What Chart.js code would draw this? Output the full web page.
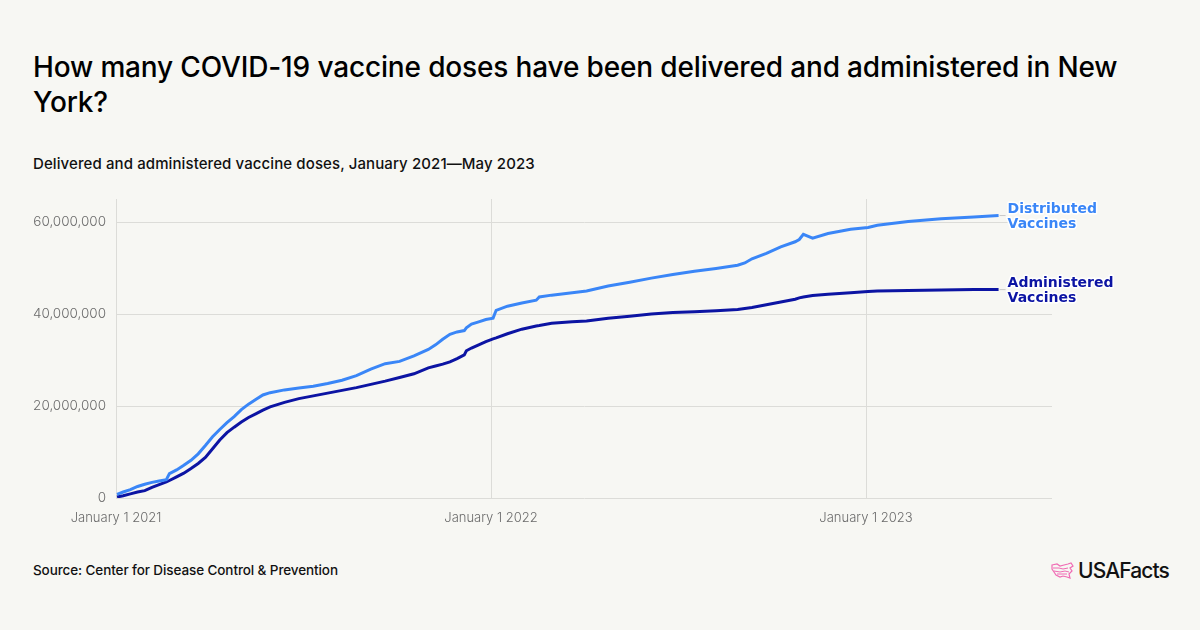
<!DOCTYPE html>
<html>
<head>
<meta charset="utf-8">
<script src="https://cdn.jsdelivr.net/npm/chart.js@4.4.1/dist/chart.umd.min.js"></script>
<style>
  html, body { margin:0; padding:0; background:#f7f7f3; }
  body { width:1200px; height:630px; position:relative; overflow:hidden; font-family: Inter, "Noto Sans", sans-serif; }
  #title { position:absolute; left:33px; top:50px; width:1140px; font-size:28px; font-weight:500; line-height:35px; color:#000; letter-spacing:-0.15px; }
  #subtitle { position:absolute; left:33px; top:154px; font-size:15px; font-weight:500; color:#111; letter-spacing:0.1px; }
  #source { position:absolute; left:33px; top:562px; font-size:13.5px; font-weight:500; color:#111; letter-spacing:-0.1px; }
  #logo { position:absolute; left:1051px; top:558px; display:flex; align-items:center; }
  #logo span { font-size:21px; font-weight:500; color:#111; letter-spacing:-0.9px; margin-left:4px; }
  #wrap { position:absolute; left:0; top:0; width:1200px; height:630px; }
</style>
</head>
<body>
<div id="title">How many COVID-19 vaccine doses have been delivered and administered in New York?</div>
<div id="subtitle">Delivered and administered vaccine doses, January 2021—May 2023</div>
<div id="source">Source: Center for Disease Control &amp; Prevention</div>
<div id="logo">
  <svg width="23" height="18" viewBox="0 0 23 18">
    <path d="M1 3 L6 2 L9 4 L13 3 L17 2 L20 1 L22 4 L19 6 L21 9 L18 12 L19 16 L16 15 L12 14 L9 15 L5 13 L3 10 L1 7 Z" fill="none" stroke="#f06bb4" stroke-width="1.2"/>
    <path d="M2 6 L8 6 L12 7 L17 6 M3 9 L9 10 L14 9 L18 10 M6 12 L11 12 L16 12" fill="none" stroke="#f06bb4" stroke-width="1"/>
  </svg>
  <span>USAFacts</span>
</div>
<div id="wrap"><canvas id="c" width="1200" height="630"></canvas></div>
<script>
// ---- data ----
const dates = [
 '2021-01-02','2021-01-08','2021-01-15','2021-01-22','2021-01-29','2021-02-05','2021-02-12','2021-02-19','2021-02-22',
 '2021-03-01','2021-03-08','2021-03-15','2021-03-22','2021-03-29','2021-04-05','2021-04-12','2021-04-19','2021-04-26',
 '2021-05-03','2021-05-10','2021-05-17','2021-05-24','2021-05-31','2021-06-14','2021-06-28','2021-07-12','2021-07-26',
 '2021-08-09','2021-08-23','2021-09-06','2021-09-20','2021-10-04','2021-10-18','2021-11-01','2021-11-08','2021-11-15',
 '2021-11-22','2021-11-29','2021-12-06','2021-12-08','2021-12-13','2021-12-20','2021-12-27','2022-01-03','2022-01-06',
 '2022-01-17','2022-01-31','2022-02-14','2022-02-17','2022-03-01','2022-03-21','2022-04-04','2022-04-25','2022-05-16',
 '2022-06-06','2022-06-27','2022-07-18','2022-08-08','2022-08-29','2022-09-05','2022-09-12','2022-09-26','2022-10-10',
 '2022-10-24','2022-10-28','2022-11-01','2022-11-10','2022-11-25','2022-12-17','2023-01-03','2023-01-12','2023-02-11',
 '2023-03-15','2023-04-16','2023-05-10'
];
// millions of doses
const distributed = [
 0.8,1.3,1.8,2.5,3.0,3.4,3.7,4.0,5.3,
 6.1,7.1,8.2,9.6,11.4,13.3,14.9,16.4,17.7,
 19.2,20.4,21.4,22.4,22.9,23.5,23.9,24.3,24.9,
 25.6,26.6,28.0,29.2,29.7,30.9,32.3,33.3,34.5,
 35.6,36.1,36.4,37.0,37.8,38.3,38.8,39.1,40.8,
 41.7,42.4,43.0,43.7,44.1,44.6,45.0,46.1,46.9,
 47.8,48.6,49.3,49.9,50.6,51.1,52.0,53.2,54.6,
 55.7,56.2,57.3,56.5,57.5,58.4,58.8,59.3,60.1,
 60.7,61.1,61.4
];
const administered = [
 0.2,0.5,0.9,1.3,1.6,2.3,2.9,3.5,3.8,
 4.6,5.4,6.4,7.5,8.8,10.7,12.6,14.2,15.4,
 16.5,17.5,18.3,19.1,19.8,20.8,21.6,22.2,22.8,
 23.4,24.0,24.7,25.4,26.2,27.0,28.3,28.7,29.1,
 29.6,30.3,31.1,32.0,32.6,33.3,34.0,34.6,34.8,
 35.7,36.7,37.4,37.5,38.0,38.3,38.5,39.1,39.5,
 40.0,40.3,40.5,40.7,41.0,41.2,41.4,42.0,42.6,
 43.2,43.5,43.7,44.0,44.3,44.6,44.9,45.0,45.1,
 45.2,45.3,45.3
];
const xTickLabels = ['January 1 2021','January 1 2022','January 1 2023'];
const xTickDates = ['2021-01-01','2022-01-01','2023-01-01'];
const yTickValues = [0, 20000000, 40000000, 60000000];
const seriesLabels = [['Distributed','Vaccines'],['Administered','Vaccines']];
const xEndDate = '2023-07-01';

const t0 = Date.UTC(2021,0,1);
function dayOf(s){ const p=s.split('-').map(Number); return (Date.UTC(p[0],p[1]-1,p[2])-t0)/86400000; }
const distData = dates.map((d,i)=>({x:dayOf(d), y:distributed[i]*1e6}));
const admData = dates.map((d,i)=>({x:dayOf(d), y:administered[i]*1e6}));
const xTicks = xTickDates.map(dayOf);

const COL_D = '#3a86f7', COL_A = '#0c14a3';

const endLabels = {
  id:'endLabels',
  afterDatasetsDraw(chart){
    const ctx = chart.ctx;
    chart.data.datasets.forEach((ds,i)=>{
      const meta = chart.getDatasetMeta(i);
      const pt = meta.data[meta.data.length-1];
      const lines = seriesLabels[i];
      ctx.save();
      ctx.strokeStyle = '#c8c8c8'; ctx.lineWidth = 1;
      ctx.beginPath(); ctx.moveTo(pt.x+1, pt.y); ctx.lineTo(pt.x+7, pt.y); ctx.stroke();
      ctx.font = 'bold 14px "DejaVu Sans"';
      ctx.textBaseline = 'middle';
      ctx.lineJoin = 'round';
      const lh = 15;
      lines.forEach((ln,k)=>{
        const y = pt.y + 1 + (k - (lines.length-1)/2)*lh;
        ctx.strokeStyle = '#ffffff'; ctx.lineWidth = 3;
        ctx.strokeText(ln, pt.x+9, y);
        ctx.fillStyle = ds.borderColor;
        ctx.fillText(ln, pt.x+9, y);
      });
      ctx.restore();
    });
  }
};

new Chart(document.getElementById('c'), {
  type:'line',
  data:{ datasets:[
    {label:'Distributed Vaccines', data:distData, borderColor:COL_D, borderWidth:3, pointRadius:0, tension:0, fill:false},
    {label:'Administered Vaccines', data:admData, borderColor:COL_A, borderWidth:3, pointRadius:0, tension:0, fill:false}
  ]},
  options:{
    responsive:false, animation:false,
    layout:{ padding:{ left:0, top:199, right:148, bottom:102 } },
    plugins:{ legend:{display:false}, tooltip:{enabled:false} },
    scales:{
      x:{ type:'linear', min:0, max:dayOf(xEndDate),
        afterBuildTicks(s){ s.ticks = xTicks.map(v=>({value:v})); },
        afterFit(s){ s.height = 30; },
        ticks:{ autoSkip:false, maxRotation:0, padding:12, color:'#6b6b6b', font:{family:'Inter', size:13, weight:300},
          callback:(v)=>{ const k = xTicks.indexOf(v); return k>=0 ? xTickLabels[k] : ''; } },
        grid:{ color:'#dcdcd8', lineWidth:1, drawTicks:false },
        border:{ display:false }
      },
      y:{ min:0, max:65000000,
        afterBuildTicks(s){ s.ticks = yTickValues.map(v=>({value:v})); },
        afterFit(s){ s.width = 116; },
        ticks:{ padding:10, color:'#6b6b6b', font:{family:'Inter', size:13.5, weight:300},
          callback:(v)=>v.toLocaleString('en-US') },
        grid:{ color:'#dcdcd8', lineWidth:1, drawTicks:false },
        border:{ display:true, color:'#dcdcd8' }
      }
    }
  },
  plugins:[endLabels]
});
</script>
</body>
</html>
